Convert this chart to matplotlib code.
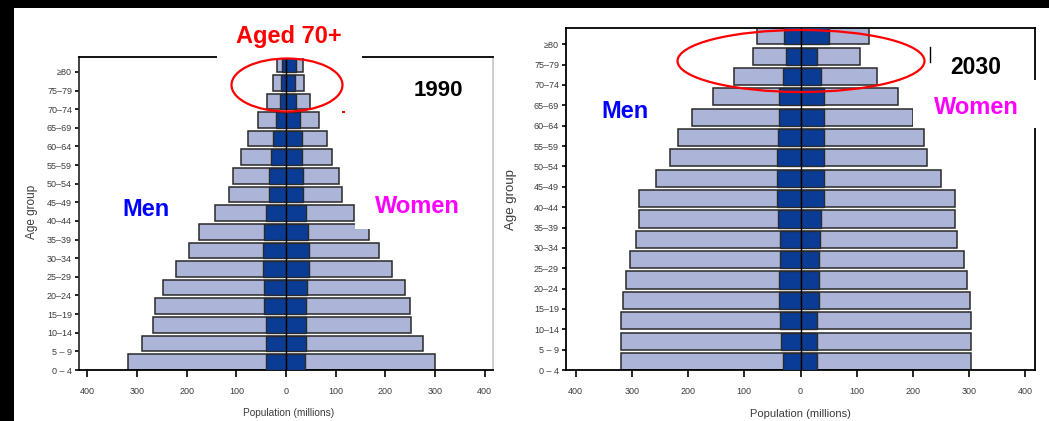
import matplotlib.pyplot as plt
from matplotlib.patches import Ellipse, Rectangle
from matplotlib.lines import Line2D

# ==============================================================================
# Population pyramids, 1990 vs 2030 (millions)
# ==============================================================================

age_groups = ["0 – 4", "5 – 9", "10–14", "15–19", "20–24", "25–29", "30–34",
              "35–39", "40–44", "45–49", "50–54", "55–59", "60–64", "65–69",
              "70–74", "75–79", "≥80"]

# 1990: outer (light) bars and inner (dark) bars
men_1990 = [319, 290, 267, 263, 248, 222, 196, 175, 144, 115, 106, 91, 77, 56, 38, 26, 19]
women_1990 = [300, 275, 252, 249, 240, 214, 188, 168, 137, 112, 106, 93, 83, 67, 48, 37, 35]
men_in_1990 = [40, 40, 40, 44, 44, 46, 46, 44, 40, 34, 34, 30, 27, 21, 13, 11, 9]
women_in_1990 = [38, 40, 40, 40, 42, 46, 46, 44, 40, 34, 34, 32, 32, 28, 21, 19, 21]

# 2030
men_2030 = [320, 320, 320, 316, 310, 304, 292, 287, 287, 257, 232, 217, 193, 156, 118, 84, 78]
women_2030 = [304, 304, 304, 302, 296, 290, 279, 274, 275, 250, 225, 219, 200, 173, 136, 106, 121]
men_in_2030 = [32, 34, 36, 39, 39, 36, 36, 40, 42, 42, 42, 40, 38, 38, 32, 25, 30]
women_in_2030 = [29, 30, 30, 33, 33, 33, 35, 37, 42, 42, 42, 42, 42, 42, 37, 30, 50]

x_ticks = [-400, -300, -200, -100, 0, 100, 200, 300, 400]

LIGHT = "#acb5d8"
DARK = "#0a3c96"
EDGE = "#2a2a2a"

W, H = 1049, 421


def fx(px):
    return px / W


def fy(py):
    return 1 - py / H


def draw_pyramid(ax, men, women, men_in, women_in, tick_font, tick_size):
    ypos = list(range(len(age_groups)))
    h = 0.84
    ax.barh(ypos, [-v for v in men], height=h, align="edge", color=LIGHT,
            edgecolor=EDGE, linewidth=1.1, zorder=2)
    ax.barh(ypos, women, height=h, align="edge", color=LIGHT,
            edgecolor=EDGE, linewidth=1.1, zorder=2)
    ax.barh(ypos, [-v for v in men_in], height=h, align="edge", color=DARK,
            edgecolor=EDGE, linewidth=1.0, zorder=3)
    ax.barh(ypos, women_in, height=h, align="edge", color=DARK,
            edgecolor=EDGE, linewidth=1.0, zorder=3)
    ax.axvline(0, color="black", linewidth=1.0, zorder=4)

    ax.set_xlim(-417, 417)
    ax.set_ylim(0, 16.8)
    ax.set_yticks(ypos)
    ax.set_yticklabels(age_groups, family=tick_font, fontsize=tick_size, color="#3c3c3c")
    ax.set_xticks(x_ticks)
    ax.set_xticklabels([str(abs(t)) for t in x_ticks], family=tick_font,
                       fontsize=tick_size, color="#3c3c3c")
    ax.tick_params(axis="y", length=3, width=1.2, pad=2)
    ax.tick_params(axis="x", length=5, width=1.2, pad=7)
    for s in ax.spines.values():
        s.set_linewidth(1.3)
        s.set_color("black")


fig = plt.figure(figsize=(10.49, 4.21), dpi=100)

ax1 = fig.add_axes([fx(79), fy(370), (493 - 79) / W, (370 - 57) / H])
ax2 = fig.add_axes([fx(566), fy(370), (1035 - 566) / W, (370 - 28) / H])

narrow = ["Liberation Sans Narrow", "Liberation Sans", "DejaVu Sans"]
draw_pyramid(ax1, men_1990, women_1990, men_in_1990, women_in_1990, narrow, 6.5)
draw_pyramid(ax2, men_2030, women_2030, men_in_2030, women_in_2030, "Liberation Sans", 6.5)
ax1.spines["right"].set_color("#cccccc")
ax1.spines["left"].set_color("#333333")

# axis titles
fig.text(fx(32), fy(212), "Age group", rotation=90, ha="center", va="center",
         family="Liberation Sans", fontsize=8.5, color="#3c3c3c")
fig.text(fx(511), fy(200), "Age group", rotation=90, ha="center", va="center",
         family="Liberation Sans", fontsize=9.5, color="#3c3c3c")
fig.text(fx(289), fy(413), "Population (millions)", ha="center", va="center",
         family="Liberation Sans", fontsize=7.3, color="#3c3c3c")
fig.text(fx(800), fy(414), "Population (millions)", ha="center", va="center",
         family="Liberation Sans", fontsize=8, color="#3c3c3c")

# white patches pasted over the original chart
for (x0, y0, x1, y1) in [(217, 14, 362, 58), (355, 185, 470, 229), (913, 80, 1042, 128)]:
    fig.add_artist(Rectangle((fx(x0), fy(y1)), (x1 - x0) / W, (y1 - y0) / H,
                             transform=fig.transFigure, facecolor="white",
                             edgecolor="none", zorder=5))

# annotations
bold = dict(family="Liberation Sans", fontweight="bold", ha="center", va="center", zorder=6)
fig.text(fx(289), fy(36), "Aged 70+", color="#ff0000", fontsize=17, **bold)
fig.text(fx(438), fy(90), "1990", color="black", fontsize=16, **bold)
fig.text(fx(146), fy(209), "Men", color="#0000ff", fontsize=17, **bold)
fig.text(fx(417), fy(206), "Women", color="#ff00ff", fontsize=17, **bold)
fig.text(fx(976), fy(67), "2030", color="black", fontsize=16.5, **bold)
fig.text(fx(976), fy(107), "Women", color="#ff00ff", fontsize=17, **bold)
fig.text(fx(625), fy(112), "Men", color="#0000ff", fontsize=17, **bold)

# red ellipses around the 70+ groups
fig.add_artist(Ellipse((fx(287), fy(85)), 111 / W, 53 / H, transform=fig.transFigure,
                       fill=False, edgecolor="#ff0000", linewidth=1.6, zorder=7))
fig.add_artist(Ellipse((fx(801), fy(61)), 247 / W, 62 / H, transform=fig.transFigure,
                       fill=False, edgecolor="#ff0000", linewidth=1.6, zorder=7))
fig.add_artist(Rectangle((fx(342), fy(113)), 3 / W, 2 / H, transform=fig.transFigure,
                         facecolor="#ff0000", edgecolor="none", zorder=7))
fig.add_artist(Line2D([fx(930), fx(930)], [fy(47), fy(62)], transform=fig.transFigure,
                      color="black", linewidth=1.0, zorder=7))

# black frame of the screenshot
fig.add_artist(Rectangle((0, fy(8)), 1, 8 / H, transform=fig.transFigure,
                         facecolor="black", edgecolor="none", zorder=8))
fig.add_artist(Rectangle((0, 0), 14 / W, 1, transform=fig.transFigure,
                         facecolor="black", edgecolor="none", zorder=8))

fig.savefig("out.png", dpi=100)
